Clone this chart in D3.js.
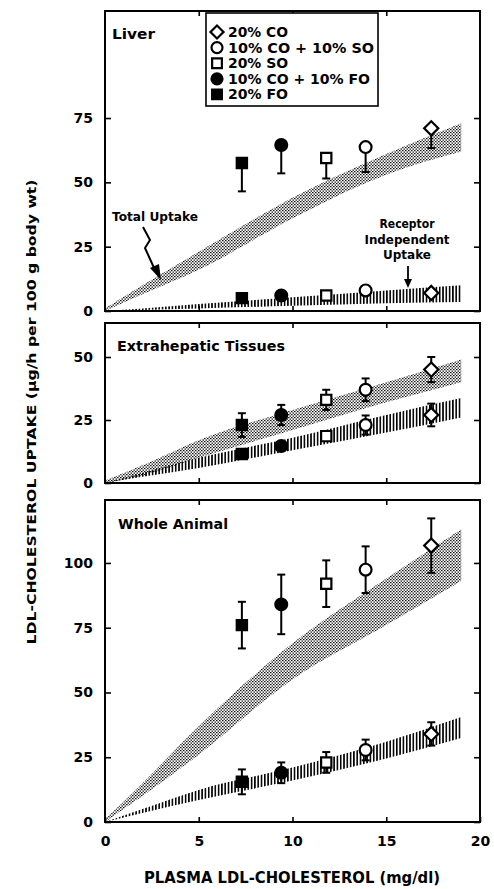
<!DOCTYPE html>
<html>
<head>
<meta charset="utf-8">
<title>LDL-cholesterol uptake</title>
<script src="https://d3js.org/d3.v7.min.js"></script>
<style>
body { margin: 0; background: #fff; }
text { font-family: "DejaVu Sans", sans-serif; font-weight: bold; fill: #000; }
</style>
</head>
<body>
<script>
// diet groups, legend order
var groups = ["20% CO", "10% CO + 10% SO", "20% SO", "10% CO + 10% FO", "20% FO"];
var symbols = ["diamond", "circle", "square", "circle", "square"];
var filled = [false, false, false, true, true];
var ldl = [17.4, 13.9, 11.8, 9.4, 7.3];   // plasma LDL-cholesterol, mg/dl

// measured uptake (total) and receptor independent uptake, with SE
var liverTotal = [71, 63.7, 59.5, 64.5, 57.5];
var liverTotalErr = [7.7, 9.7, 8, 11, 11];
var liverRI = [7, 8, 6, 6, 5];
var liverRIErr = [0, 0, 0, 0, 0];

var extraTotal = [45, 37, 33, 27, 23];
var extraTotalErr = [5, 4.5, 4, 4, 4.7];
var extraRI = [27, 23, 18.6, 14.7, 11.5];
var extraRIErr = [4.5, 3.8, 1, 0.5, 0.5];

var wholeTotal = [106.7, 97.4, 92, 84, 76];
var wholeTotalErr = [10.5, 9, 9, 11.5, 9];
var wholeRI = [34, 27.8, 23, 19, 15.5];
var wholeRIErr = [4.5, 4, 4, 4, 4.8];

// shaded ranges (lower / upper edge) along plasma LDL-C
var bandX = [0, 2, 5, 10, 15, 19];
var liverTotalLo = [0, 6.5, 16, 36, 53, 62];
var liverTotalHi = [1, 10, 23, 44, 61, 73];
var liverRILo = [0, 0.4, 1, 2, 3, 3.5];
var liverRIHi = [0, 1, 2.7, 5.3, 8, 10];
var extraTotalLo = [0, 3, 10, 21, 32, 40];
var extraTotalHi = [1, 7, 17, 29, 40, 49];
var extraRILo = [0, 2.5, 6, 13, 20, 26];
var extraRIHi = [0, 4, 10, 18, 27, 33.7];
var wholeTotalLo = [0, 10, 26, 55, 76, 93];
var wholeTotalHi = [1, 15, 37, 69, 94, 113];
var wholeRILo = [0, 3.5, 8.5, 16, 24.5, 32.4];
var wholeRIHi = [0, 5, 12.4, 21, 31, 40.5];

var xTicks = [0, 5, 10, 15, 20];
var liverTicks = [0, 25, 50, 75];
var extraTicks = [0, 25, 50];
var wholeTicks = [0, 25, 50, 75, 100];

var width = 494, height = 889;
var left = 105, right = 480;

var panels = [
  { name: "Liver", top: 11, bottom: 311, max: 116.6, ticks: liverTicks,
    total: liverTotal, totalErr: liverTotalErr, ri: liverRI, riErr: liverRIErr,
    tLo: liverTotalLo, tHi: liverTotalHi, rLo: liverRILo, rHi: liverRIHi,
    oneSided: true, labelX: 112, labelY: 39, labelW: 43 },
  { name: "Extrahepatic Tissues", top: 323, bottom: 483, max: 63.5, ticks: extraTicks,
    total: extraTotal, totalErr: extraTotalErr, ri: extraRI, riErr: extraRIErr,
    tLo: extraTotalLo, tHi: extraTotalHi, rLo: extraRILo, rHi: extraRIHi,
    oneSided: false, labelX: 117, labelY: 351, labelW: 168 },
  { name: "Whole Animal", top: 500, bottom: 822, max: 124.3, ticks: wholeTicks,
    total: wholeTotal, totalErr: wholeTotalErr, ri: wholeRI, riErr: wholeRIErr,
    tLo: wholeTotalLo, tHi: wholeTotalHi, rLo: wholeRILo, rHi: wholeRIHi,
    oneSided: false, labelX: 118, labelY: 529, labelW: 110 }
];

var svg = d3.select("body").append("svg").attr("width", width).attr("height", height);

var defs = svg.append("defs");
// stippled texture for total uptake
var pt = defs.append("pattern").attr("id", "stipple").attr("patternUnits", "userSpaceOnUse")
  .attr("width", 3).attr("height", 3);
pt.append("rect").attr("x", 0).attr("y", 0).attr("width", 1.5).attr("height", 1.2).attr("fill", "#111");
pt.append("rect").attr("x", 1.5).attr("y", 1.5).attr("width", 1.5).attr("height", 1.2).attr("fill", "#111");
// vertical hatching for receptor independent uptake
var ph = defs.append("pattern").attr("id", "hatch").attr("patternUnits", "userSpaceOnUse")
  .attr("width", 3.3).attr("height", 10);
ph.append("rect").attr("x", 0).attr("y", 0).attr("width", 1.6).attr("height", 10).attr("fill", "#000");

var x = d3.scaleLinear().domain([0, 20]).range([left, right]);

function symbolPath(s, size) {
  if (s === "circle") return d3.symbol(d3.symbolCircle, size)();
  return d3.symbol(d3.symbolSquare, size)();
}

panels.forEach(function(p, pi) {
  var y = d3.scaleLinear().domain([0, p.max]).range([p.bottom, p.top]);
  var g = svg.append("g");
  var clipId = "clip" + pi;
  defs.append("clipPath").attr("id", clipId).append("rect")
    .attr("x", left).attr("y", p.top).attr("width", right - left).attr("height", p.bottom - p.top);

  var area = function(lo, hi) {
    return d3.area().x(function(d, i) { return x(bandX[i]); })
      .y0(function(d, i) { return y(lo[i]); })
      .y1(function(d, i) { return y(hi[i]); })
      .curve(d3.curveMonotoneX)(bandX);
  };
  var bands = g.append("g").attr("clip-path", "url(#" + clipId + ")");
  bands.append("path").attr("d", area(p.tLo, p.tHi)).attr("fill", "url(#stipple)");
  bands.append("path").attr("d", area(p.rLo, p.rHi)).attr("fill", "url(#hatch)");

  // axes
  var axL = d3.axisLeft(y).tickValues(p.ticks).tickSizeInner(-6).tickSizeOuter(0).tickPadding(12);
  var axR = d3.axisRight(y).tickValues(p.ticks).tickSizeInner(-6).tickSizeOuter(0).tickFormat("");
  var axT = d3.axisTop(x).tickValues([5, 10, 15]).tickSizeInner(-5).tickSizeOuter(0).tickFormat("");
  var axB = d3.axisBottom(x).tickSizeInner(-5).tickSizeOuter(0);
  if (pi === 2) axB.tickValues(xTicks).tickPadding(14);
  else axB.tickValues([5, 10, 15]).tickFormat("");

  g.append("g").attr("transform", "translate(" + left + ",0)").call(axL);
  g.append("g").attr("transform", "translate(" + right + ",0)").call(axR);
  g.append("g").attr("transform", "translate(0," + p.top + ")").call(axT);
  g.append("g").attr("transform", "translate(0," + p.bottom + ")").call(axB);
  g.selectAll(".domain").remove();
  g.selectAll(".tick line").attr("stroke", "#000").attr("stroke-width", 1.6);
  g.selectAll(".tick text").attr("font-family", null).style("font-size", "14px");

  g.append("rect").attr("x", left).attr("y", p.top).attr("width", right - left)
    .attr("height", p.bottom - p.top).attr("fill", "none").attr("stroke", "#000").attr("stroke-width", 2);

  // error bars, then markers
  var series = [[p.total, p.totalErr, p.oneSided], [p.ri, p.riErr, false]];
  series.forEach(function(s) {
    var vals = s[0], errs = s[1];
    vals.forEach(function(v, i) {
      if (!errs[i]) return;
      var yLo = y(v - errs[i]), yHi = s[2] ? y(v) : y(v + errs[i]);
      var cx = x(ldl[i]);
      g.append("line").attr("x1", cx).attr("x2", cx).attr("y1", yLo).attr("y2", yHi)
        .attr("stroke", "#000").attr("stroke-width", 2);
      g.append("line").attr("x1", cx - 4).attr("x2", cx + 4).attr("y1", yLo).attr("y2", yLo)
        .attr("stroke", "#000").attr("stroke-width", 2);
      if (!s[2]) g.append("line").attr("x1", cx - 4).attr("x2", cx + 4).attr("y1", yHi).attr("y2", yHi)
        .attr("stroke", "#000").attr("stroke-width", 2);
    });
    vals.forEach(function(v, i) {
      var rot = symbols[i] === "diamond" ? " rotate(45)" : "";
      var size = symbols[i] === "diamond" ? 100 : (symbols[i] === "circle" ? 110 : 105);
      g.append("path").attr("d", symbolPath(symbols[i], size))
        .attr("transform", "translate(" + x(ldl[i]) + "," + y(v) + ")" + rot)
        .attr("fill", filled[i] ? "#000" : "#fff")
        .attr("stroke", "#000").attr("stroke-width", 2.2);
    });
  });

  g.append("text").attr("x", p.labelX).attr("y", p.labelY).style("font-size", "14px")
    .attr("textLength", p.labelW).attr("lengthAdjust", "spacingAndGlyphs").text(p.name);
});

// legend
var lg = svg.append("g");
lg.append("rect").attr("x", 206).attr("y", 13).attr("width", 172).attr("height", 93)
  .attr("fill", "#fff").attr("stroke", "#000").attr("stroke-width", 1.6);
var legW = [60, 146, 60, 142, 60];
groups.forEach(function(name, i) {
  var cy = 32 + i * 15.6;
  var rot = symbols[i] === "diamond" ? " rotate(45)" : "";
  var size = symbols[i] === "diamond" ? 85 : 95;
  lg.append("path").attr("d", symbolPath(symbols[i], size))
    .attr("transform", "translate(217," + cy + ")" + rot)
    .attr("fill", filled[i] ? "#000" : "#fff").attr("stroke", "#000").attr("stroke-width", 2.2);
  lg.append("text").attr("x", 228).attr("y", cy + 5).style("font-size", "14px")
    .attr("textLength", legW[i]).attr("lengthAdjust", "spacingAndGlyphs").text(name);
});

// annotations in liver panel
svg.append("text").attr("x", 112).attr("y", 221).style("font-size", "12px")
  .attr("textLength", 86).attr("lengthAdjust", "spacingAndGlyphs").text("Total Uptake");
svg.append("path").attr("d", "M143,227 L150,240 L145,248 L155,270")
  .attr("fill", "none").attr("stroke", "#000").attr("stroke-width", 2);
svg.append("path").attr("d", "M150,268 L161,280 L159,264 Z").attr("fill", "#000");

var riLines = ["Receptor", "Independent", "Uptake"];
var riW = [55, 85, 48];
riLines.forEach(function(t, i) {
  svg.append("text").attr("x", 407).attr("y", 228 + i * 15.5).attr("text-anchor", "middle")
    .style("font-size", "12px").attr("textLength", riW[i]).attr("lengthAdjust", "spacingAndGlyphs").text(t);
});
svg.append("line").attr("x1", 408).attr("x2", 408).attr("y1", 266).attr("y2", 280)
  .attr("stroke", "#000").attr("stroke-width", 1.8);
svg.append("path").attr("d", "M404,279 L412,279 L408,288 Z").attr("fill", "#000");

// axis titles
svg.append("text").attr("x", 292).attr("y", 883).attr("text-anchor", "middle")
  .style("font-size", "15px").attr("textLength", 296).attr("lengthAdjust", "spacingAndGlyphs")
  .text("PLASMA LDL-CHOLESTEROL (mg/dl)");
svg.append("text").attr("transform", "translate(36,412) rotate(-90)").attr("text-anchor", "middle")
  .style("font-size", "13px").attr("textLength", 465).attr("lengthAdjust", "spacingAndGlyphs")
  .text("LDL-CHOLESTEROL UPTAKE (\u00b5g/h per 100 g body wt)");
</script>
</body>
</html>
